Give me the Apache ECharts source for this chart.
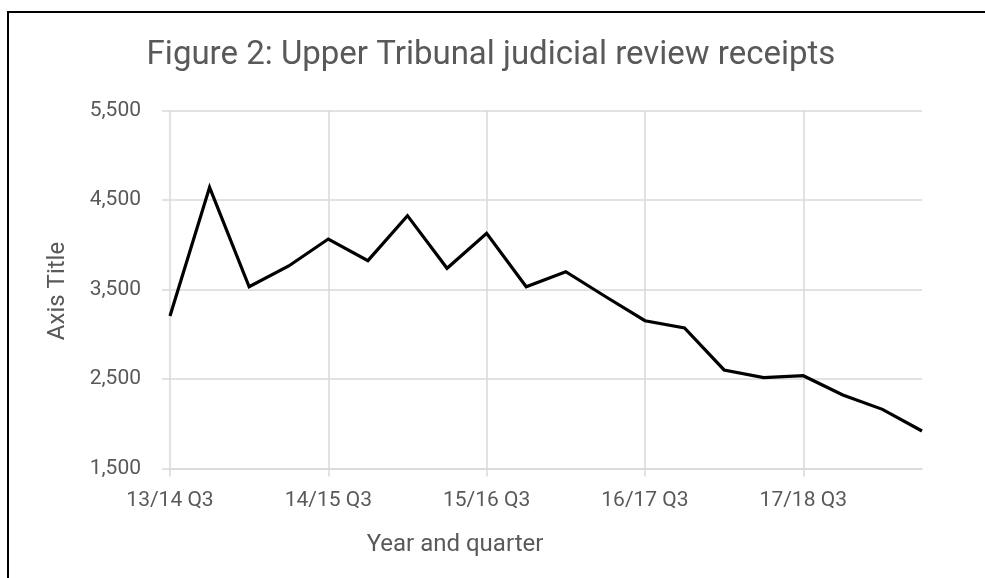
<!DOCTYPE html>
<html>
<head>
<meta charset="utf-8">
<script src="https://cdn.jsdelivr.net/npm/echarts@6/dist/echarts.min.js"></script>
<style>
html,body{margin:0;padding:0;background:#fff;}
#chart{width:985px;height:578px;}
</style>
</head>
<body>
<div id="chart"></div>
<script>
var categories = [
  "13/14 Q3","13/14 Q4",
  "14/15 Q1","14/15 Q2","14/15 Q3","14/15 Q4",
  "15/16 Q1","15/16 Q2","15/16 Q3","15/16 Q4",
  "16/17 Q1","16/17 Q2","16/17 Q3","16/17 Q4",
  "17/18 Q1","17/18 Q2","17/18 Q3","17/18 Q4",
  "18/19 Q1","18/19 Q2"
];
var receipts = [
  3204, 4642,
  3531, 3763, 4064, 3822,
  4325, 3737, 4128, 3531,
  3699, 3422, 3151, 3070,
  2601, 2515, 2537, 2321,
  2161, 1919
];
var yMin = 1500, yMax = 5500, yStep = 1000;
var titleText = "Figure 2: Upper Tribunal judicial review receipts";
var xTitle = "Year and quarter";
var yTitle = "Axis Title";

var FONT = "Roboto, 'Open Sans', sans-serif";
var GRAY = "#595959";
var GRID = "#d9d9d9";

var chart = echarts.init(document.getElementById('chart'), null, {renderer: 'canvas'});
chart.setOption({
  animation: false,
  backgroundColor: '#fff',
  grid: {left: 170, right: 63, top: 110.5, bottom: 109.5, containLabel: false},
  xAxis: {
    type: 'category',
    data: categories,
    boundaryGap: false,
    axisLine: {show: true, lineStyle: {color: GRID, width: 1.5}},
    axisTick: {show: true, interval: 3, length: 8, lineStyle: {color: GRID, width: 1.5}},
    splitLine: {show: true, interval: 3, lineStyle: {color: GRID, width: 1.5}},
    axisLabel: {interval: 3, margin: 22, color: GRAY, fontFamily: FONT, fontSize: 21}
  },
  yAxis: {
    type: 'value',
    min: yMin, max: yMax, interval: yStep,
    axisLine: {show: false},
    axisTick: {show: true, length: 8, lineStyle: {color: GRID, width: 1.5}},
    splitLine: {show: true, lineStyle: {color: GRID, width: 1.5}},
    axisLabel: {
      margin: 29, color: GRAY, fontFamily: FONT, fontSize: 21,
      formatter: function (v) { return v.toLocaleString('en-US'); }
    }
  },
  series: [{
    type: 'line',
    data: receipts,
    symbol: 'none',
    lineStyle: {color: '#000', width: 3.2, join: 'miter'}
  }],
  graphic: [
    {type: 'rect', silent: true, z: 100,
     shape: {x: 8, y: 12, width: 1000, height: 600},
     style: {fill: 'none', stroke: '#000', lineWidth: 2}},
    {type: 'text', silent: true,
     style: {text: titleText, x: 491, y: 56, align: 'center', verticalAlign: 'middle',
             font: "33px " + FONT, fill: GRAY}},
    {type: 'text', silent: true,
     style: {text: xTitle, x: 455, y: 545, align: 'center', verticalAlign: 'middle',
             font: "24px " + FONT, fill: GRAY}},
    {type: 'text', silent: true, x: 58, y: 291, rotation: Math.PI / 2,
     style: {text: yTitle, x: 0, y: 0, align: 'center', verticalAlign: 'middle',
             font: "24px " + FONT, fill: GRAY}}
  ]
});
</script>
</body>
</html>
